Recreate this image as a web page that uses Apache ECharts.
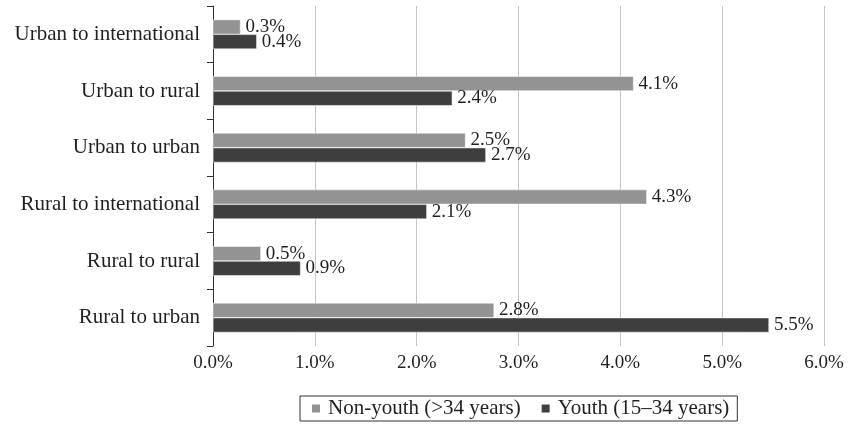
<!DOCTYPE html>
<html>
<head>
<meta charset="utf-8">
<script src="https://cdn.jsdelivr.net/npm/echarts@6/dist/echarts.min.js"></script>
<style>
  html, body { margin: 0; padding: 0; background: #fff; }
  #chart { width: 850px; height: 431px; }
</style>
</head>
<body>
<div id="chart"></div>
<script>
// categories listed bottom to top (category axis runs upward)
const categories = ["Rural to urban", "Rural to rural", "Rural to international",
                    "Urban to urban", "Urban to rural", "Urban to international"];
const nonYouth = [2.76, 0.47, 4.26, 2.48, 4.13, 0.27];
const youth = [5.46, 0.86, 2.1, 2.68, 2.35, 0.43];
const xTicks = [0, 1, 2, 3, 4, 5, 6];

const font = "Liberation Serif";
const ink = "#231f20";

const labelOpt = {
    show: true,
    position: "right",
    distance: 5,
    color: ink,
    fontFamily: font,
    fontSize: 19,
    formatter: p => p.value.toFixed(1) + "%"
};

const myChart = echarts.init(document.getElementById("chart"));

myChart.setOption({
    animation: false,
    grid: { left: 213, right: 26, top: 6, bottom: 85 },
    legend: {
        top: 396,
        left: 300,
        itemWidth: 10,
        itemHeight: 10,
        itemGap: 19,
        padding: [2, 8, 2, 10],
        borderColor: "#333",
        borderWidth: 1,
        borderRadius: 0,
        textStyle: { fontFamily: font, fontSize: 21, color: ink, padding: [0, 0, 0, 2] },
        data: [
            { name: "Non-youth (>34 years)", icon: "rect" },
            { name: "Youth (15\u201334 years)", icon: "rect" }
        ]
    },
    xAxis: {
        type: "value",
        min: xTicks[0],
        max: xTicks[xTicks.length - 1],
        interval: 1,
        axisLine: { show: false },
        axisTick: { show: false },
        splitLine: { lineStyle: { color: "#c6c6c6", width: 1 } },
        axisLabel: {
            margin: 8,
            color: ink,
            fontFamily: font,
            fontSize: 19,
            formatter: v => v.toFixed(1) + "%"
        }
    },
    yAxis: {
        type: "category",
        data: categories,
        axisLine: { show: true, lineStyle: { color: "#333", width: 1 } },
        axisTick: { show: true, length: 6, lineStyle: { color: "#333" } },
        axisLabel: {
            margin: 13,
            color: ink,
            fontFamily: font,
            fontSize: 21
        }
    },
    series: [
        {
            name: "Non-youth (>34 years)",
            type: "bar",
            data: nonYouth,
            barGap: "0%",
            barCategoryGap: "48%",
            itemStyle: { color: "#939393", borderColor: "#fff", borderWidth: 0.5 },
            label: labelOpt
        },
        {
            name: "Youth (15\u201334 years)",
            type: "bar",
            data: youth,
            itemStyle: { color: "#3e3e3e", borderColor: "#fff", borderWidth: 0.5 },
            label: labelOpt
        }
    ]
});
</script>
</body>
</html>
